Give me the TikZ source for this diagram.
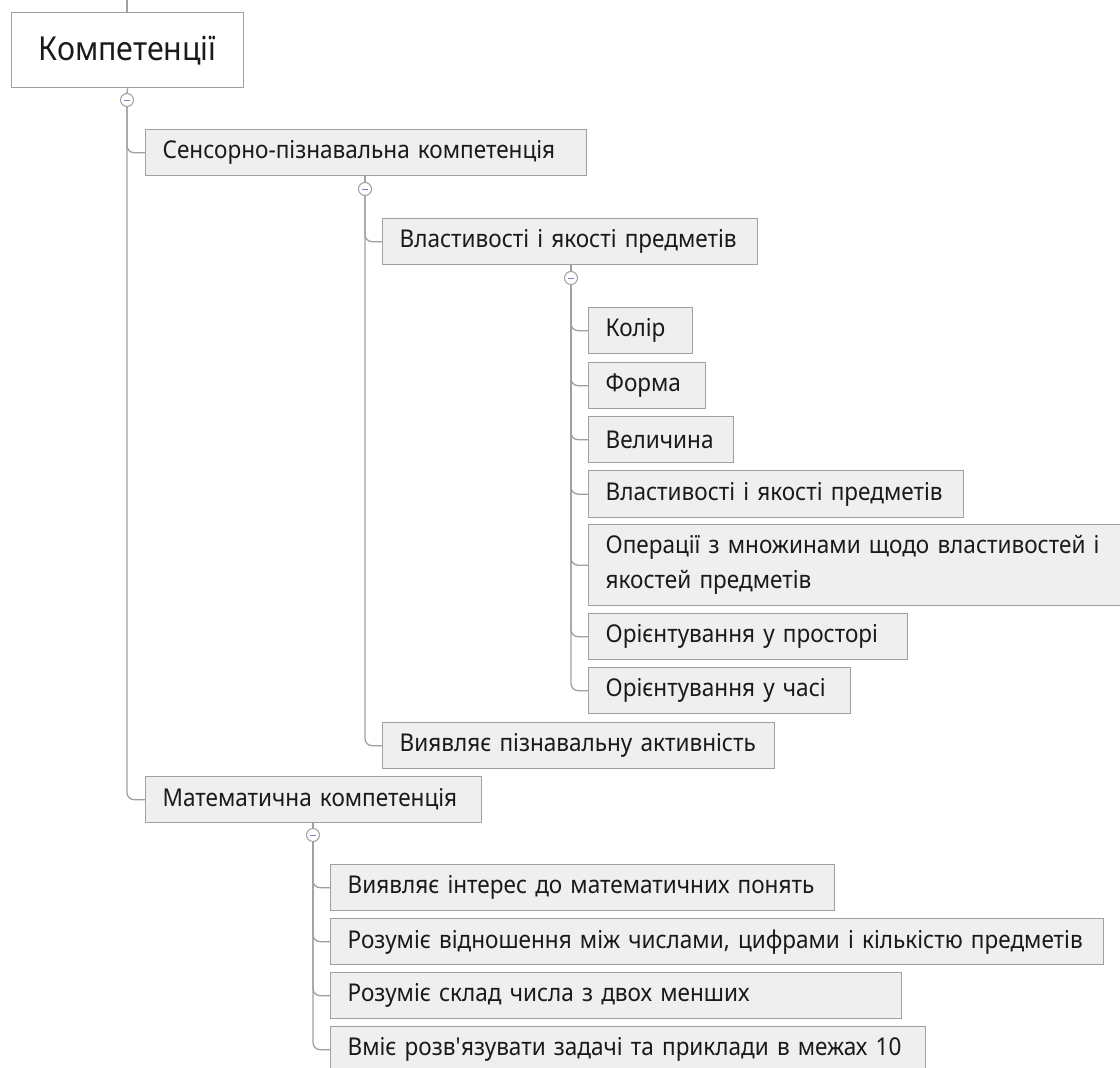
\documentclass[tikz,border=0pt]{standalone}
\usepackage{fontspec}
\setmainfont{Noto Sans}[FakeStretch=0.92]
\definecolor{boxfill}{HTML}{EFEFEF}
\definecolor{boxline}{HTML}{A0A0A0}
\definecolor{connline}{HTML}{A0A0A0}
\definecolor{minuscol}{HTML}{7F84C0}
\definecolor{txt}{HTML}{1A1A1A}
\tikzset{
  x=1pt, y=-1pt,
  box/.style={draw=boxline, fill=boxfill, line width=1.3pt, inner xsep=17pt, inner ysep=0pt,
    align=left, text=txt, font=\fontsize{24.5}{35}\selectfont},
  rootbox/.style={draw=boxline, fill=white, line width=1.3pt, inner sep=0pt, text=txt,
    font=\fontsize{33}{38}\selectfont},
  conn/.style={draw=connline, line width=1.3pt, rounded corners=7pt},
  toggle/.style={circle, draw=connline, fill=white, line width=1pt, minimum size=13pt, inner sep=0pt,
    path picture={\draw[minuscol, line width=1pt] ([xshift=-3pt]path picture bounding box.center) -- ([xshift=3pt]path picture bounding box.center);}},
}
\newcommand\treebox[6]{%
  \pgfmathsetmacro\tbw{#4-#2}\pgfmathsetmacro\tbh{#5-#3}\pgfmathsetmacro\tbt{#4-#2-34}%
  \node[box, anchor=north west, minimum width=\tbw pt, minimum height=\tbh pt, text width=\tbt pt] (#1) at (#2,#3) {#6};}
\begin{document}
\begin{tikzpicture}
\useasboundingbox (0,0) rectangle (1120,1068);
\clip (0,0) rectangle (1120,1068);
\fill[white] (0,0) rectangle (1120,1068);

% root
\node[rootbox, anchor=north west, minimum width=232pt, minimum height=75pt] (root) at (11,12) {Компетенції};
\coordinate (top) at (127,0);
\draw[conn] (root.north -| top) -- (top);

% toggles
\node[toggle] (t1) at (127,100) {};
\node[toggle] (t2) at (365,189) {};
\node[toggle] (t3) at (571,278) {};
\node[toggle] (t4) at (313,835) {};

% level 1
\treebox{sens}{145}{129}{586}{175}{Сенсорно-пізнавальна компетенція}
\treebox{math}{145}{776}{481}{822}{Математична компетенція}
% level 2
\treebox{vlast}{382}{218}{757}{264}{Властивості і якості предметів}
\treebox{vyav}{382}{722}{774}{768}{Виявляє пізнавальну активність}
% level 3
\treebox{kolir}{588}{307}{692}{353}{Колір}
\treebox{forma}{588}{362}{705}{408}{Форма}
\treebox{velych}{588}{416}{733}{462}{Величина}
\treebox{vlast2}{588}{470}{963}{517}{Властивості і якості предметів}
\treebox{oper}{588}{524}{1150}{605}{Операції з множинами щодо властивостей і\\якостей предметів}
\treebox{orprost}{588}{613}{907}{659}{Орієнтування у просторі}
\treebox{orchas}{588}{667}{850}{713}{Орієнтування у часі}
% math children
\treebox{interes}{330}{864}{834}{910}{Виявляє інтерес до математичних понять}
\treebox{vidnosh}{330}{918}{1103}{964}{Розуміє відношення між числами, цифрами і кількістю предметів}
\treebox{sklad}{330}{972}{901}{1018}{Розуміє склад числа з двох менших}
\treebox{vmie}{330}{1026}{925}{1072}{Вміє розв\textquotesingle язувати задачі та приклади в межах 10}

% connectors
\draw[conn] (root.south) -- (t1.north);
\draw[conn] (t1.south) |- (sens.west);
\draw[conn] (t1.south) |- (math.west);
\draw[conn] (sens.south -| t2) -- (t2.north);
\draw[conn] (t2.south) |- (vlast.west);
\draw[conn] (t2.south) |- (vyav.west);
\draw[conn] (vlast.south -| t3) -- (t3.north);
\foreach \n in {kolir,forma,velych,vlast2,oper,orprost,orchas}
  \draw[conn] (t3.south) |- (\n.west);
\draw[conn] (math.south -| t4) -- (t4.north);
\foreach \n in {interes,vidnosh,sklad,vmie}
  \draw[conn] (t4.south) |- (\n.west);
\end{tikzpicture}
\end{document}
